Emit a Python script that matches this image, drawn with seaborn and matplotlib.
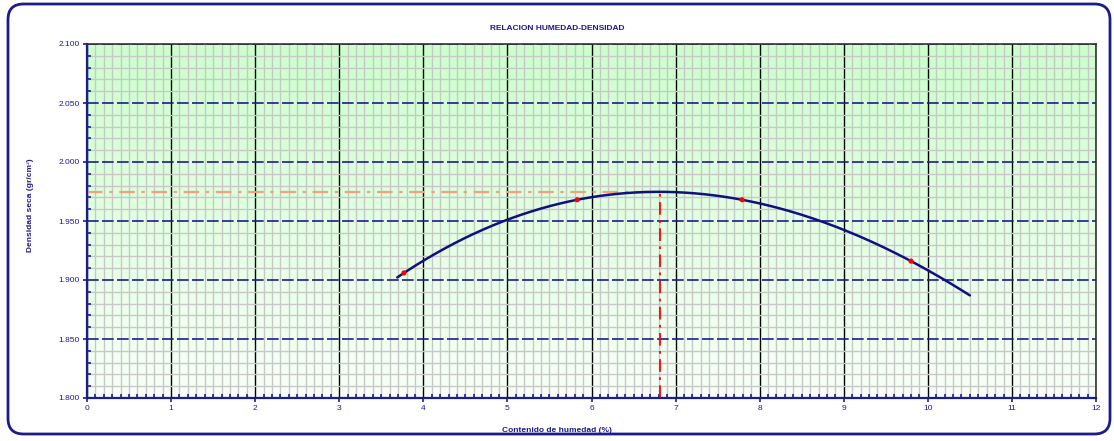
import numpy as np
import pandas as pd
import matplotlib
matplotlib.use("Agg")
import matplotlib.pyplot as plt
from matplotlib.patches import FancyBboxPatch
from matplotlib.ticker import MultipleLocator, FormatStrFormatter
from matplotlib.colors import LinearSegmentedColormap
import seaborn as sns

# Proctor test results: moisture content (%) and dry density (g/cm3)
humedad = [3.77, 5.83, 7.79, 9.80]
densidad = [1.906, 1.968, 1.968, 1.916]
curva_inicio = 3.69
curva_fin = 10.50

title = "RELACION HUMEDAD-DENSIDAD"
xlabel = "Contenido de humedad (%)"
ylabel = "Densidad seca (gr/cm³)"

NAVY = "#1c1c8c"

sns.set_style("white")
plt.rcParams["font.family"] = ["Liberation Sans", "DejaVu Sans"]

fig = plt.figure(figsize=(11.14, 4.41), dpi=100)
ax = fig.add_axes([87 / 1114, 1 - 398 / 441, (1096 - 87) / 1114, (398 - 44) / 441])

xmin, xmax, ymin, ymax = 0, 12, 1.800, 2.100
ax.set_xlim(xmin, xmax)
ax.set_ylim(ymin, ymax)

# green-to-white background gradient
grad = np.linspace(0, 1, 256).reshape(-1, 1)
cmap = LinearSegmentedColormap.from_list("bg", ["#f8fff8", "#ccffcc"])
ax.imshow(grad, extent=[xmin, xmax, ymin, ymax], origin="lower", aspect="auto",
          cmap=cmap, zorder=0)

# grid
ax.xaxis.set_major_locator(MultipleLocator(1))
ax.xaxis.set_minor_locator(MultipleLocator(0.1))
ax.yaxis.set_major_locator(MultipleLocator(0.05))
ax.yaxis.set_minor_locator(MultipleLocator(0.01))
ax.yaxis.set_major_formatter(FormatStrFormatter("%.3f"))
ax.set_axisbelow(True)
ax.grid(which="minor", color="#c8c8c8", lw=1.0, zorder=1)
ax.grid(which="major", axis="x", color="black", lw=1.0, zorder=2)
ax.grid(which="major", axis="y", color=NAVY, lw=1.2, ls=(0, (7, 2)), zorder=2)

for s in ["left", "bottom"]:
    ax.spines[s].set_color(NAVY)
    ax.spines[s].set_linewidth(1.6)
for s in ["top", "right"]:
    ax.spines[s].set_color("#333333")
    ax.spines[s].set_linewidth(1.2)
for sp in ax.spines.values():
    sp.set_zorder(5)

ax.tick_params(which="major", direction="out", length=3, width=1.2, color=NAVY,
               labelsize=6, labelcolor=NAVY, pad=2)
ax.tick_params(which="minor", direction="in", length=3, width=1.2, color=NAVY)
ax.tick_params(axis="x", which="both", bottom=True, top=False)
ax.tick_params(axis="y", which="both", left=True, right=False)

# fitted compaction curve (cubic through the four test points)
coef = np.polyfit(humedad, densidad, 3)
xs = np.linspace(curva_inicio, curva_fin, 300)
ys = np.polyval(coef, xs)
curve = pd.DataFrame({"x": xs, "y": ys})
i_opt = int(np.argmax(ys))
x_opt, y_opt = xs[i_opt], ys[i_opt]

ax.plot([xmin, x_opt], [y_opt, y_opt], color="#f4a083", lw=1.6,
        ls=(0, (7, 3, 1.5, 3)), zorder=3)
ax.plot([x_opt, x_opt], [ymin, y_opt], color="#ff0000", lw=1.3,
        ls=(0, (7, 3, 1.5, 3)), zorder=3)

sns.lineplot(data=curve, x="x", y="y", ax=ax, color="#101080", lw=1.8,
             zorder=4, sort=False)
sns.scatterplot(x=humedad, y=densidad, ax=ax, color="#ff0000", s=14,
                edgecolor="none", zorder=6)

ax.set_xlabel("")
ax.set_ylabel("")

fig.text(0.5, 1 - 29 / 441, title, ha="center", va="center", fontsize=6,
         fontweight="bold", color=NAVY)
fig.text(0.5, 1 - 430 / 441, xlabel, ha="center", va="center", fontsize=6,
         fontweight="bold", color=NAVY)
fig.text(30 / 1114, 1 - 205 / 441, ylabel, ha="center", va="center", fontsize=6,
         fontweight="bold", color=NAVY, rotation=90)

# rounded outer frame
frame = FancyBboxPatch((8 / 1114, 7 / 441), 1102 / 1114, 430 / 441,
                       boxstyle="round,pad=0,rounding_size=0.014",
                       transform=fig.transFigure, facecolor="none",
                       edgecolor=NAVY, lw=2.0, mutation_aspect=1114 / 441)
fig.patches.append(frame)

fig.savefig("out.png", dpi=100)
